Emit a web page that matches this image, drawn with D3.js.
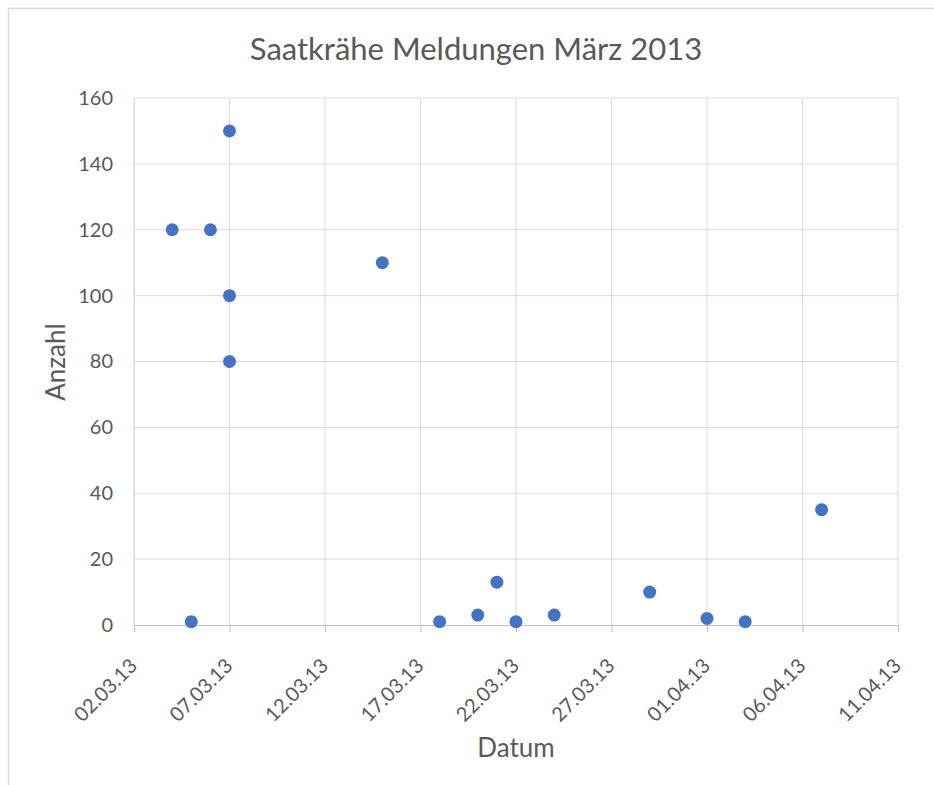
<!DOCTYPE html>
<html lang="de">
<head>
<meta charset="UTF-8">
<title>Saatkrähe Meldungen März 2013</title>
<style>
  html, body { margin: 0; padding: 0; background: #fff; }
  svg { display: block; font-family: Lato, "Open Sans", sans-serif; }
</style>
</head>
<body>
<svg id="svg" width="934" height="785"></svg>
<script src="https://d3js.org/d3.v7.min.js"></script>
<script>
// observation dates and counts
const dates = ['04.03.13', '05.03.13', '06.03.13', '07.03.13', '07.03.13', '07.03.13',
  '15.03.13', '18.03.13', '20.03.13', '21.03.13', '22.03.13', '24.03.13',
  '29.03.13', '01.04.13', '03.04.13', '07.04.13']
const counts = [120, 1, 120, 150, 100, 80, 110, 1, 3, 13, 1, 3, 10, 2, 1, 35]

const xTickLabels = ['02.03.13', '07.03.13', '12.03.13', '17.03.13', '22.03.13',
  '27.03.13', '01.04.13', '06.04.13', '11.04.13']
const yTicks = [0, 20, 40, 60, 80, 100, 120, 140, 160]

const parse = d3.utcParse('%d.%m.%y')
const fmt = d3.utcFormat('%d.%m.%y')
const data = dates.map((d, i) => ({ date: parse(d), count: counts[i] }))

const margin = { top: 98, right: 36, bottom: 160, left: 134 }
const width = 934, height = 785

const svg = d3.select('#svg')

// outer chart frame (cropped at right and bottom)
svg.append('path')
  .attr('d', `M8.5,${height} V8.5 H${width}`)
  .attr('fill', 'none')
  .attr('stroke', '#d9d9d9')
  .attr('stroke-width', 1.5)

const xscale = d3.scaleUtc()
  .domain([parse(xTickLabels[0]), parse(xTickLabels[xTickLabels.length - 1])])
  .range([margin.left, width - margin.right])

const yscale = d3.scaleLinear()
  .domain([0, 160])
  .range([height - margin.bottom, margin.top])

const xTickDates = xTickLabels.map(parse)

// gridlines
svg.append('g')
  .selectAll('line')
  .data(yTicks.slice(1))
  .join('line')
  .attr('x1', margin.left).attr('x2', width - margin.right)
  .attr('y1', d => yscale(d)).attr('y2', d => yscale(d))
  .attr('stroke', '#d9d9d9')

svg.append('g')
  .selectAll('line')
  .data(xTickDates)
  .join('line')
  .attr('x1', d => xscale(d)).attr('x2', d => xscale(d))
  .attr('y1', margin.top).attr('y2', height - margin.bottom)
  .attr('stroke', '#d9d9d9')

// x axis
const bottomAxis = d3.axisBottom(xscale)
  .tickValues(xTickDates)
  .tickFormat(fmt)
  .tickSize(7)
  .tickSizeOuter(0)

const xAxis = svg.append('g')
  .attr('transform', `translate(0, ${height - margin.bottom})`)
  .call(bottomAxis)
xAxis.select('.domain').attr('stroke', '#bfbfbf')
xAxis.selectAll('.tick line').attr('stroke', '#bfbfbf')
xAxis.selectAll('.tick text')
  .attr('fill', '#595959')
  .attr('font-size', 20)
  .style('font-family', 'Lato, sans-serif')
  .attr('text-anchor', 'end')
  .attr('x', 0).attr('y', 0).attr('dy', 0)
  .attr('transform', 'translate(4, 42) rotate(-45)')

// y axis
const leftAxis = d3.axisLeft(yscale)
  .tickValues(yTicks)
  .tickSize(0)
  .tickPadding(21)

const yAxis = svg.append('g')
  .attr('transform', `translate(${margin.left}, 0)`)
  .call(leftAxis)
yAxis.select('.domain').attr('stroke', '#d9d9d9')
yAxis.selectAll('.tick text')
  .attr('fill', '#595959')
  .attr('font-size', 20)
  .style('font-family', 'Lato, sans-serif')

// points
svg.append('g')
  .selectAll('circle')
  .data(data)
  .join('circle')
  .attr('cx', d => xscale(d.date))
  .attr('cy', d => yscale(d.count))
  .attr('r', 6.5)
  .attr('fill', '#4472c4')

// title
svg.append('text')
  .attr('x', 476)
  .attr('y', 60)
  .attr('text-anchor', 'middle')
  .attr('fill', '#595959')
  .attr('font-size', 31)
  .text('Saatkrähe Meldungen März 2013')

// axis titles
svg.append('text')
  .attr('x', 516)
  .attr('y', 757)
  .attr('text-anchor', 'middle')
  .attr('fill', '#595959')
  .attr('font-size', 26)
  .text('Datum')

svg.append('text')
  .attr('transform', 'translate(65, 362) rotate(-90)')
  .attr('text-anchor', 'middle')
  .attr('fill', '#595959')
  .attr('font-size', 26)
  .text('Anzahl')
</script>
</body>
</html>
